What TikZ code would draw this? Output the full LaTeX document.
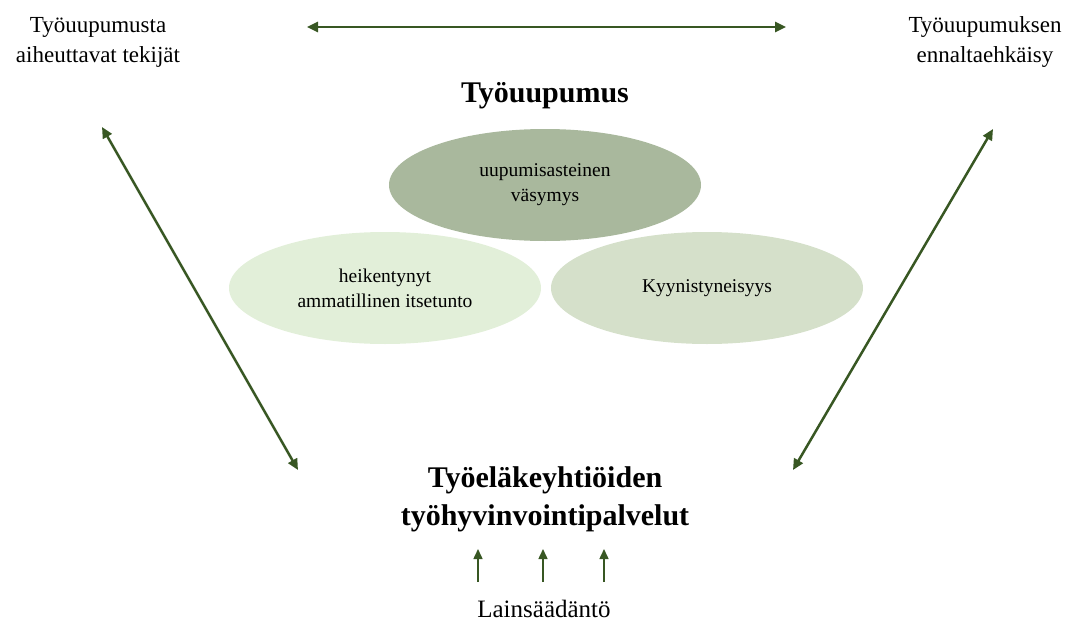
\documentclass[tikz,border=0pt]{standalone}
\usepackage{fontspec}
\setmainfont{Liberation Serif}
\usetikzlibrary{arrows.meta,shapes.geometric}

\definecolor{arrowgreen}{RGB}{56,87,35}
\definecolor{topfill}{RGB}{169,184,157}
\definecolor{leftfill}{RGB}{226,239,217}
\definecolor{rightfill}{RGB}{213,224,202}

\tikzset{
	bigarrow/.style={arrowgreen, line width=2.5pt, {Triangle[length=11pt,width=10pt]}-{Triangle[length=11pt,width=10pt]}},
	smallarrow/.style={arrowgreen, line width=1.5pt, -{Triangle[length=10pt,width=9pt]}},
	blob/.style={ellipse, minimum width=312pt, minimum height=112pt, inner sep=0pt, align=center, font=\fontsize{19.5}{25}\selectfont},
	corner/.style={align=center, font=\fontsize{23}{30}\selectfont}
}

\begin{document}
\begin{tikzpicture}[x=1pt,y=-1pt]
	\useasboundingbox (0,0) rectangle (1077,629);

	\node[corner] (causes) at (98,42) {Työuupumusta\\aiheuttavat tekijät};
	\node[corner] (prevent) at (985,42) {Työuupumuksen\\ennaltaehkäisy};
	\node[font=\bfseries\fontsize{30}{36}\selectfont] (burnout) at (545,96) {Työuupumus};

	\node[blob,fill=topfill] (fatigue) at (545,185) {uupumisasteinen\\väsymys};
	\node[blob,fill=leftfill] (esteem) at (385,288) {heikentynyt\\ammatillinen itsetunto};
	\node[blob,fill=rightfill] (cynic) at (707,288) {Kyynistyneisyys};

	\node[align=center, font=\bfseries\fontsize{30}{38}\selectfont] (services) at (545,499) {Työeläkeyhtiöiden\\työhyvinvointipalvelut};
	\node[font=\fontsize{25}{30}\selectfont] (law) at (544,609) {Lainsäädäntö};

	\coordinate (topL) at (307,27);
	\coordinate (topR) at (786,27);
	\coordinate (diagL) at (102,127);
	\coordinate (diagR) at (993,129);
	\coordinate (servL) at (298,470);
	\coordinate (servR) at (793,470);

	\draw[bigarrow] (topL) -- (topR);
	\draw[bigarrow] (diagL) -- (servL);
	\draw[bigarrow] (diagR) -- (servR);

	\foreach \x in {478,543,604}
		\draw[smallarrow] (\x,582) -- (\x,549);
\end{tikzpicture}
\end{document}
